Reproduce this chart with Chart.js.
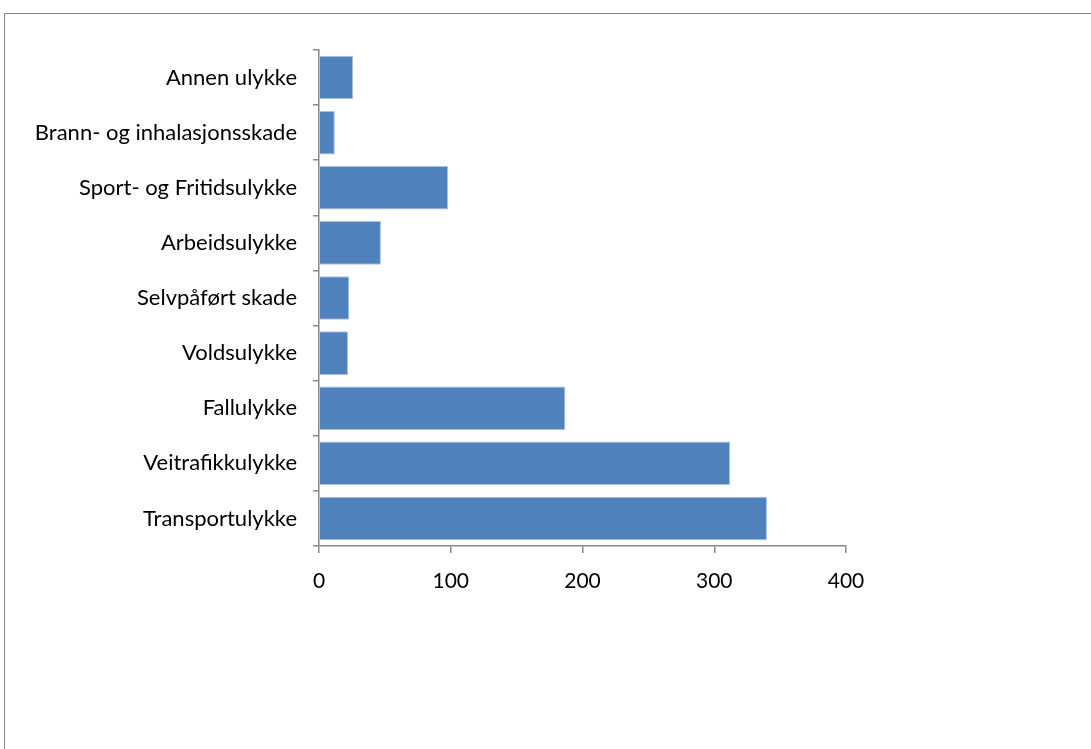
<!DOCTYPE html>
<html>
<head>
<meta charset="utf-8">
<script src="https://cdn.jsdelivr.net/npm/chart.js@4/dist/chart.umd.min.js"></script>
<style>
  html, body { margin: 0; padding: 0; background: #fff; overflow: hidden; }
  #frame { position: absolute; left: 4px; top: 13px; width: 2000px; height: 2000px; border: 1px solid #888; }
  #chart { position: absolute; left: 0; top: 0; }
</style>
</head>
<body>
<div id="frame"></div>
<canvas id="chart" width="1091" height="749"></canvas>
<script>
// categories top to bottom, as in the picture
const categories = [
  "Annen ulykke",
  "Brann- og inhalasjonsskade",
  "Sport- og Fritidsulykke",
  "Arbeidsulykke",
  "Selvpåført skade",
  "Voldsulykke",
  "Fallulykke",
  "Veitrafikkulykke",
  "Transportulykke"
];
const counts = [26, 12, 98, 47, 23, 22, 187, 312, 340];
const xTicks = [0, 100, 200, 300, 400];

const axisColor = '#888888';

createChart(counts, categories);

function createChart(data, labels) {
  const ctx = document.getElementById('chart').getContext('2d');
  new Chart(ctx, {
    type: 'bar',
    data: {
      labels: labels,
      datasets: [{
        data: data,
        backgroundColor: '#4F81BD',
        borderColor: '#A9C0DF',
        borderWidth: 1,
        barPercentage: 0.79,
        categoryPercentage: 1
      }]
    },
    options: {
      indexAxis: 'y',
      responsive: false,
      animation: false,
      layout: { padding: { top: 50, right: 245, left: 0, bottom: 0 } },
      plugins: { legend: { display: false }, tooltip: { enabled: false } },
      scales: {
        x: {
          min: 0,
          max: 400,
          afterBuildTicks: function (axis) {
            axis.ticks = xTicks.map(v => ({ value: v }));
          },
          afterFit: function (axis) { axis.height = 749 - 546; },
          grid: { drawOnChartArea: false, color: axisColor, lineWidth: 1.5, tickLength: 7 },
          border: { color: axisColor, width: 1.5 },
          ticks: { color: '#000', font: { family: 'Lato', size: 21 }, padding: 16 }
        },
        y: {
          afterFit: function (axis) { axis.width = 319; },
          grid: { drawOnChartArea: false, offset: true, color: axisColor, lineWidth: 1.5, tickLength: 6 },
          border: { color: axisColor, width: 1.5 },
          ticks: { color: '#000', font: { family: 'Lato', size: 22 }, padding: 16 }
        }
      }
    }
  });
}
</script>
</body>
</html>
